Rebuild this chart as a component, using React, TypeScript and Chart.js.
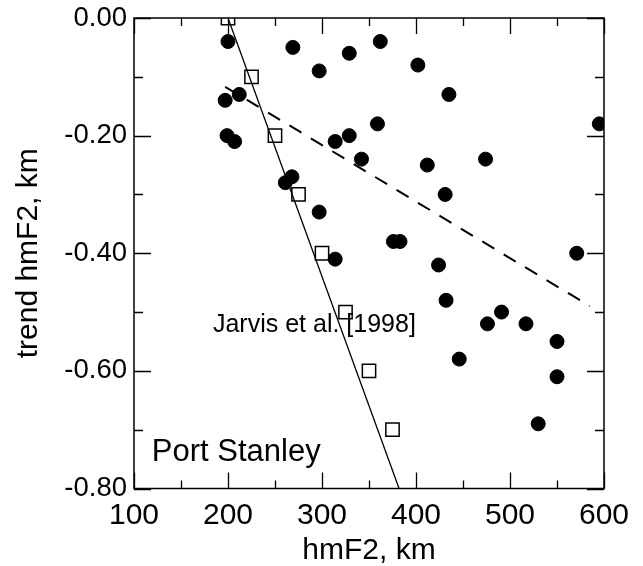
import React, { useEffect, useRef } from "react";
import { Chart, registerables } from "chart.js";

Chart.register(...registerables);

// Port Stanley hmF2 trends (filled circles)
const circleX = [200, 269, 297, 329, 362, 212, 197, 199, 207, 314, 329, 359, 342, 261, 268, 297, 376, 383, 402, 435, 412, 474, 431, 595, 571, 314, 424, 432, 491, 476, 517, 550, 446, 550, 530];
const circleY = [-0.04, -0.05, -0.09, -0.06, -0.04, -0.13, -0.14, -0.2, -0.21, -0.21, -0.2, -0.18, -0.24, -0.28, -0.27, -0.33, -0.38, -0.38, -0.08, -0.13, -0.25, -0.24, -0.3, -0.18, -0.4, -0.41, -0.42, -0.48, -0.5, -0.52, -0.52, -0.55, -0.58, -0.61, -0.69];

// Jarvis et al. [1998] (open squares)
const squareX = [200, 225, 250, 275, 300, 325, 350, 375];
const squareY = [0, -0.1, -0.2, -0.3, -0.4, -0.5, -0.6, -0.7];

// Jarvis et al. regression line
const jarvisLineX = [200, 382];
const jarvisLineY = [0, -0.8];

// Linear fit of the observations (dashed)
const fitLineX = [197, 585];
const fitLineY = [-0.117, -0.49];

// Axis ranges and ticks
const xMin = 100, xMax = 600, xMajor = 100, xMinor = 50;
const yMin = -0.8, yMax = 0, yMajor = 0.2, yMinor = 0.1;

// Text notes
const noteJarvis = { text: "Jarvis et al. [1998]", x: 184, y: -0.522 };
const noteStation = { text: "Port Stanley", x: 119, y: -0.738 };

const FONT = "'Liberation Sans', Arial, Helvetica, sans-serif";

const toPts = (xs: number[], ys: number[]) => xs.map((x, i) => ({ x, y: ys[i] }));

const framePlugin = {
  id: "frame",
  afterDraw(chart: any) {
    const { ctx, chartArea: a, scales } = chart;
    const xs = scales.x, ys = scales.y;
    ctx.save();
    ctx.strokeStyle = "#000";
    ctx.lineWidth = 1.5;
    ctx.strokeRect(a.left, a.top, a.right - a.left, a.bottom - a.top);
    ctx.lineWidth = 1.3;
    ctx.beginPath();
    for (let v = xMin; v <= xMax + 1e-9; v += xMinor) {
      const major = Math.abs(((v - xMin) / xMajor) - Math.round((v - xMin) / xMajor)) < 1e-6;
      const L = major ? 16 : 8;
      const px = Math.round(xs.getPixelForValue(v)) + 0.5;
      ctx.moveTo(px, a.bottom);
      ctx.lineTo(px, a.bottom - L);
      ctx.moveTo(px, a.top);
      ctx.lineTo(px, a.top + L);
    }
    for (let k = 0; k <= Math.round((yMax - yMin) / yMinor); k++) {
      const v = yMin + k * yMinor;
      const major = k % Math.round(yMajor / yMinor) === 0;
      const L = major ? 17 : 9;
      const py = Math.round(ys.getPixelForValue(v)) + 0.5;
      ctx.moveTo(a.left, py);
      ctx.lineTo(a.left + L, py);
      ctx.moveTo(a.right, py);
      ctx.lineTo(a.right - L, py);
    }
    ctx.stroke();

    ctx.fillStyle = "#000";
    ctx.textBaseline = "middle";
    ctx.textAlign = "left";
    ctx.font = `25px ${FONT}`;
    ctx.fillText(noteJarvis.text, xs.getPixelForValue(noteJarvis.x), ys.getPixelForValue(noteJarvis.y));
    ctx.font = `31px ${FONT}`;
    ctx.fillText(noteStation.text, xs.getPixelForValue(noteStation.x), ys.getPixelForValue(noteStation.y));
    ctx.restore();
  },
};

export default function App() {
  const ref = useRef<HTMLCanvasElement | null>(null);

  useEffect(() => {
    if (!ref.current) return;
    const chart = new Chart(ref.current, {
      type: "scatter",
      data: {
        datasets: [
          {
            label: "Jarvis et al. [1998]",
            data: toPts(squareX, squareY),
            pointStyle: "rect",
            pointRadius: 9.4,
            pointBorderWidth: 1.5,
            pointBorderColor: "#000",
            pointBackgroundColor: "rgba(0,0,0,0)",
            showLine: false,
          },
          {
            label: "Port Stanley",
            data: toPts(circleX, circleY),
            pointStyle: "circle",
            pointRadius: 7,
            pointBorderWidth: 1,
            pointBorderColor: "#000",
            pointBackgroundColor: "#000",
            showLine: false,
          },
          {
            label: "Jarvis line",
            data: toPts(jarvisLineX, jarvisLineY),
            showLine: true,
            borderColor: "#000",
            borderWidth: 1.3,
            pointRadius: 0,
            fill: false,
          },
          {
            label: "fit",
            data: toPts(fitLineX, fitLineY),
            showLine: true,
            borderColor: "#000",
            borderWidth: 2,
            borderDash: [14, 11],
            pointRadius: 0,
            fill: false,
          },
        ],
      },
      options: {
        animation: false,
        responsive: false,
        devicePixelRatio: 1,
        layout: { padding: { top: 17, right: 39, bottom: 0, left: 0 } },
        plugins: { legend: { display: false }, tooltip: { enabled: false } },
        scales: {
          x: {
            type: "linear",
            min: xMin,
            max: xMax,
            afterFit: (s: any) => { s.height = 77.5; },
            grid: { display: false, drawTicks: false },
            border: { display: false },
            ticks: {
              stepSize: xMajor,
              color: "#000",
              padding: 12,
              maxRotation: 0,
              font: { family: FONT, size: 30, lineHeight: 1 },
            },
            title: {
              display: true,
              text: "hmF2, km",
              color: "#000",
              font: { family: FONT, size: 30, lineHeight: 1 },
              padding: { top: 0, bottom: 0 },
            },
          },
          y: {
            type: "linear",
            min: yMin,
            max: yMax,
            afterFit: (s: any) => { s.width = 134; },
            grid: { display: false, drawTicks: false },
            border: { display: false },
            ticks: {
              stepSize: yMajor,
              color: "#000",
              padding: 7,
              font: { family: FONT, size: 27.5, lineHeight: 0.8 },
              callback: (v: any) => (Math.abs(Number(v)) < 1e-9 ? "0.00" : Number(v).toFixed(2)),
            },
            title: {
              display: true,
              text: "trend hmF2, km",
              color: "#000",
              font: { family: FONT, size: 30, lineHeight: 1 },
              padding: { top: 14, bottom: 0 },
            },
          },
        },
      },
      plugins: [framePlugin],
    });
    return () => chart.destroy();
  }, []);

  return (
    <div style={{ position: "fixed", left: 0, top: 0, width: 643, height: 566, background: "#fff" }}>
      <canvas ref={ref} width={643} height={566} style={{ display: "block", width: 643, height: 566 }} />
    </div>
  );
}
